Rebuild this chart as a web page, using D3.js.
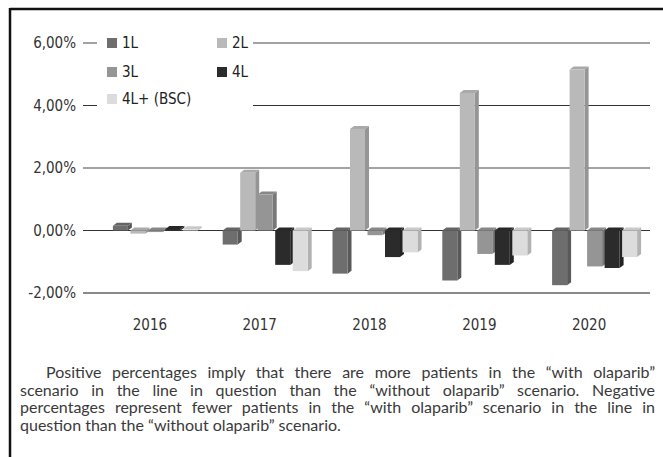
<!DOCTYPE html>
<html>
<head>
<meta charset="utf-8">
<script src="https://cdn.jsdelivr.net/npm/d3@7"></script>
<style>
  html, body { margin: 0; padding: 0; background: #fff; }
  #wrap { position: relative; width: 663px; height: 457px; overflow: hidden; }
  svg { position: absolute; left: 0; top: 0; }
  .cap { position: absolute; left: 20px; width: 635px; font-family: Lato, "Open Sans", sans-serif;
         font-size: 16px; color: #3a3a3a; line-height: 17.5px; white-space: nowrap; }
  .cap div { text-align: justify; text-align-last: justify; white-space: normal; }
  .cap div.last { text-align-last: left; }
</style>
</head>
<body>
<div id="wrap"></div>
<script>
const years = ["2016", "2017", "2018", "2019", "2020"];
const seriesNames = ["1L", "2L", "3L", "4L", "4L+ (BSC)"];
const v1L  = [0.15, -0.45, -1.38, -1.60, -1.75];
const v2L  = [-0.10, 1.85, 3.25, 4.40, 5.15];
const v3L  = [-0.05, 1.15, -0.15, -0.75, -1.15];
const v4L  = [0.05, -1.10, -0.85, -1.10, -1.20];
const v4Lp = [0.04, -1.30, -0.70, -0.80, -0.85];
const yTicks = [-2, 0, 2, 4, 6];
const captionLines = [
  "Positive percentages imply that there are more patients in the \u201cwith olaparib\u201d",
  "scenario in the line in question than the \u201cwithout olaparib\u201d scenario. Negative",
  "percentages represent fewer patients in the \u201cwith olaparib\u201d scenario in the line in",
  "question than the \u201cwithout olaparib\u201d scenario."
];

const seriesValues = [v1L, v2L, v3L, v4L, v4Lp];
const colors = ["#6e6e6e", "#b9b9b9", "#959595", "#2b2b2b", "#dcdcdc"];

const W = 663, H = 457;
const wrap = d3.select("#wrap");
const svg = wrap.append("svg").attr("width", W).attr("height", H);

// frame
svg.append("line").attr("x1", 10).attr("x2", W).attr("y1", 9).attr("y2", 9)
  .attr("stroke", "#111").attr("stroke-width", 2.5);
svg.append("line").attr("x1", 10).attr("x2", 10).attr("y1", 8).attr("y2", H)
  .attr("stroke", "#111").attr("stroke-width", 2.5);

const y = d3.scaleLinear().domain([-2, 6]).range([293, 43]);
const x0 = d3.scaleBand().domain(years).range([95, 644]).padding(0);
const x1 = d3.scaleBand().domain(seriesNames).range([-37, 50.5]).padding(0);
const frontW = 15, dx = 4, dy = 3;

// gridlines
const gridStyle = { "-2": ["#8a8a8a", 2], "0": ["#333", 1.2], "2": ["#a3a3a3", 2], "4": ["#333", 1.2], "6": ["#a3a3a3", 2] };
const gx0 = 83, gx1 = 650;
svg.append("g").selectAll("line").data(yTicks).join("line")
  .attr("x1", gx0).attr("x2", gx1)
  .attr("y1", d => y(d)).attr("y2", d => y(d))
  .attr("stroke", d => gridStyle[d][0]).attr("stroke-width", d => gridStyle[d][1]);

// y tick labels
svg.append("g").selectAll("text").data(yTicks).join("text")
  .attr("x", 76).attr("y", d => y(d)).attr("dy", "0.35em")
  .attr("text-anchor", "end")
  .attr("font-family", "'Liberation Sans Narrow', 'DejaVu Sans Condensed', sans-serif")
  .attr("font-size", 15).attr("fill", "#333")
  .text(d => d.toFixed(2).replace(".", ",") + "%");

// x labels
svg.append("g").selectAll("text").data(years).join("text")
  .attr("x", d => x0(d) + x0.bandwidth() / 2).attr("y", 325).attr("dy", "0.35em")
  .attr("text-anchor", "middle")
  .attr("font-family", "'Liberation Sans Narrow', 'DejaVu Sans Condensed', sans-serif")
  .attr("font-size", 15).attr("fill", "#333")
  .text(d => d);

// bars (pseudo-3D)
const bars = [];
years.forEach((yr, yi) => {
  seriesNames.forEach((s, si) => {
    bars.push({ yr, s, si, v: seriesValues[si][yi] });
  });
});
const barG = svg.append("g");
const bg = barG.selectAll("g").data(bars).join("g");
bg.each(function(d) {
  const g = d3.select(this);
  const c = x0(d.yr) + x0.bandwidth() / 2;
  const xl = c + x1(d.s);
  const xr = xl + frontW;
  const yTop = Math.min(y(0), y(d.v));
  const yBot = Math.max(y(0), y(d.v));
  const base = d3.color(colors[d.si]);
  g.append("path")
    .attr("d", `M${xr},${yTop} L${xr + dx},${yTop - dy} L${xr + dx},${yBot - dy} L${xr},${yBot} Z`)
    .attr("fill", base.darker(0.6));
  g.append("path")
    .attr("d", `M${xl},${yTop} L${xl + dx},${yTop - dy} L${xr + dx},${yTop - dy} L${xr},${yTop} Z`)
    .attr("fill", base.darker(0.25));
  g.append("rect").attr("x", xl).attr("y", yTop).attr("width", frontW)
    .attr("height", Math.max(0.5, yBot - yTop)).attr("fill", base);
});

// legend
const leg = svg.append("g");
leg.append("rect").attr("x", 97).attr("y", 30).attr("width", 156).attr("height", 84).attr("fill", "#fff");
const legPos = [[107, 43], [217, 43], [107, 72], [217, 72], [107, 99]];
seriesNames.forEach((s, i) => {
  const [lx, ly] = legPos[i];
  leg.append("rect").attr("x", lx).attr("y", ly - 5).attr("width", 10).attr("height", 10).attr("fill", colors[i]);
  leg.append("text").attr("x", lx + 15).attr("y", ly).attr("dy", "0.35em")
    .attr("font-family", "'Liberation Sans Narrow', 'DejaVu Sans Condensed', sans-serif")
    .attr("font-size", 15).attr("fill", "#222").text(s);
});

// caption
const cap = wrap.append("div").attr("class", "cap").style("top", "363px");
cap.selectAll("div").data(captionLines).join("div")
  .attr("class", (d, i) => i === captionLines.length - 1 ? "last" : null)
  .style("padding-left", (d, i) => i === 0 ? "26px" : "0px")
  .text(d => d);
</script>
</body>
</html>
